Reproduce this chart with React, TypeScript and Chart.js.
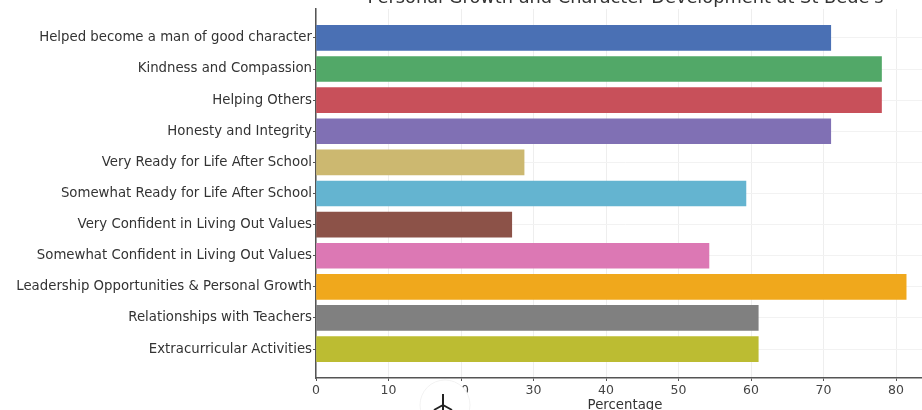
import React, { useEffect, useRef } from "react";
import { Chart, registerables } from "chart.js";

Chart.register(...registerables);

const categories = [
  "Helped become a man of good character",
  "Kindness and Compassion",
  "Helping Others",
  "Honesty and Integrity",
  "Very Ready for Life After School",
  "Somewhat Ready for Life After School",
  "Very Confident in Living Out Values",
  "Somewhat Confident in Living Out Values",
  "Leadership Opportunities & Personal Growth",
  "Relationships with Teachers",
  "Extracurricular Activities",
];
const percentages = [71, 78, 78, 71, 28.7, 59.3, 27, 54.2, 81.4, 61, 61];
const barColors = [
  "#4a70b4", "#52a868", "#c8505a", "#8070b4", "#ccb870", "#64b4d0",
  "#8c5248", "#dc78b4", "#f0a81c", "#808080", "#bcbc32",
];
const chartTitle = "Personal Growth and Character Development at St Bede's";
const FONT = "'DejaVu Sans'";

// Heading sits above the plot box, and a round badge overlaps the lower axis.
const overlays = {
  id: "overlays",
  afterDraw(chart: Chart) {
    const { ctx } = chart;
    ctx.save();
    ctx.fillStyle = "#333";
    ctx.font = `17.8px ${FONT}`;
    ctx.textAlign = "center";
    ctx.textBaseline = "alphabetic";
    ctx.fillText(chartTitle, 625.5, 3);

    ctx.beginPath();
    ctx.arc(445, 405, 25, 0, Math.PI * 2);
    ctx.fillStyle = "#fff";
    ctx.fill();
    ctx.strokeStyle = "#f2f2f2";
    ctx.stroke();

    ctx.strokeStyle = "#222";
    ctx.lineWidth = 2;
    ctx.beginPath();
    ctx.moveTo(443, 394);
    ctx.lineTo(443, 410);
    ctx.moveTo(443, 405);
    ctx.lineTo(434, 410);
    ctx.moveTo(443, 405);
    ctx.lineTo(452, 410);
    ctx.stroke();
    ctx.restore();
  },
};

export default function App() {
  const ref = useRef<HTMLCanvasElement>(null);

  useEffect(() => {
    document.body.style.margin = "0";
    const chart = new Chart(ref.current!, {
      type: "bar",
      data: {
        datasets: [
          {
            data: percentages.map((x, y) => ({ x, y })),
            backgroundColor: barColors,
            barThickness: 25,
          },
        ],
      },
      options: {
        indexAxis: "y",
        animation: false,
        responsive: false,
        layout: { padding: { top: 8, left: 0, right: 0, bottom: 0 } },
        plugins: { legend: { display: false }, title: { display: false }, tooltip: { enabled: false } },
        scales: {
          x: {
            type: "linear",
            min: 0,
            max: 85.24,
            afterBuildTicks: (axis: any) => {
              axis.ticks = [0, 10, 20, 30, 40, 50, 60, 70, 80].map((value) => ({ value }));
            },
            afterFit: (axis: any) => {
              axis.height = 36;
            },
            border: { color: "#555", width: 1.5 },
            grid: { color: "#eeeeee", tickColor: "#555", tickLength: 3 },
            ticks: {
              color: "#444",
              font: { family: FONT, size: 12.5 },
              maxRotation: 0,
              padding: 2,
            },
            title: {
              display: true,
              text: "Percentage",
              color: "#333",
              font: { family: FONT, size: 13.3 },
              padding: 0,
            },
          },
          y: {
            type: "linear",
            reverse: true,
            offset: false,
            min: -0.93,
            max: 10.93,
            afterBuildTicks: (axis: any) => {
              axis.ticks = categories.map((_, value) => ({ value }));
            },
            afterFit: (axis: any) => {
              axis.width = 316;
            },
            border: { color: "#555", width: 1.5 },
            grid: { offset: false, color: "#f2f2f2", tickColor: "#555", tickLength: 3 },
            ticks: {
              color: "#333",
              font: { family: FONT, size: 13.3 },
              padding: 1,
              autoSkip: false,
              callback: (value: any) => categories[value as number],
            },
          },
        },
      },
      plugins: [overlays],
    } as any);
    return () => chart.destroy();
  }, []);

  return (
    <div style={{ width: 922, height: 410, background: "#fff", overflow: "hidden" }}>
      <canvas ref={ref} width={934} height={414} style={{ display: "block" }} />
    </div>
  );
}
